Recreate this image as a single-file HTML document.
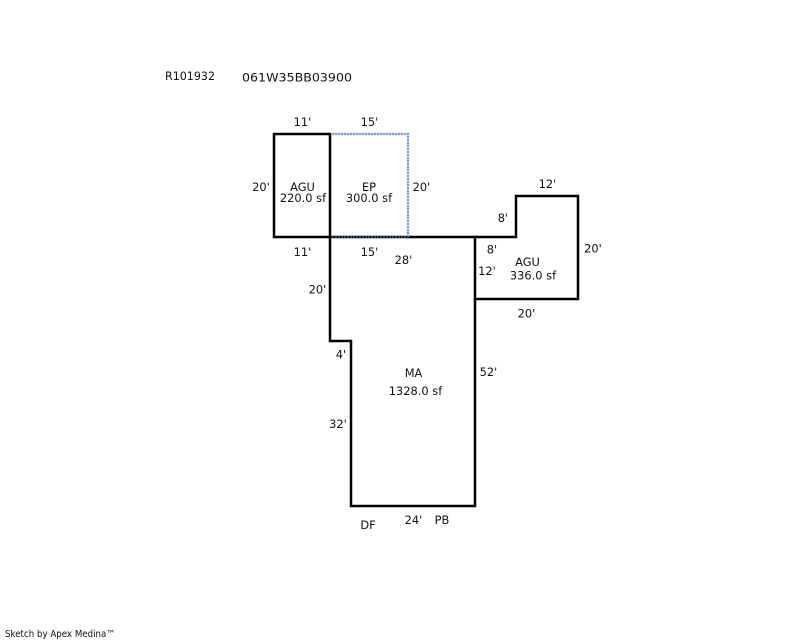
<!DOCTYPE html>
<html>
<head>
<meta charset="utf-8">
<style>
html,body{margin:0;padding:0;background:#fff;width:800px;height:640px;overflow:hidden}
svg{display:block}
text{font-family:"DejaVu Sans",sans-serif;font-size:11.4px;fill:#111;text-anchor:middle}
</style>
</head>
<body>
<svg width="800" height="640" viewBox="0 0 800 640" xmlns="http://www.w3.org/2000/svg">
<path d="M331 237H408" fill="none" stroke="#000" stroke-width="2.500"/>
<g fill="none" stroke="#000" stroke-width="2.500" stroke-linecap="square">
<path d="M274 134H330V237H274Z"/>
<path d="M330 237V341H351V506H475V237H408"/>
<path d="M475 237H516V196H578V299H475"/>
</g>
<path d="M332 134H408V237" fill="none" stroke="#cfdcee" stroke-width="2.200"/>
<path d="M332 134H408V237" fill="none" stroke="#7a9fd2" stroke-width="2.200" stroke-dasharray="2 1"/>
<path d="M332 237H408" fill="none" stroke="#24457a" stroke-width="2" stroke-dasharray="2 1"/>
<text x="190" y="80" textLength="50" lengthAdjust="spacingAndGlyphs">R101932</text>
<text x="297" y="81.500" textLength="110" lengthAdjust="spacingAndGlyphs">061W35BB03900</text>
<text x="302.500" y="126">11'</text>
<text x="369.500" y="126">15'</text>
<text x="261" y="191">20'</text>
<text x="421.500" y="191">20'</text>
<text x="302.500" y="191">AGU</text>
<text x="303" y="202">220.0 sf</text>
<text x="369" y="191">EP</text>
<text x="369" y="202">300.0 sf</text>
<text x="302.500" y="256">11'</text>
<text x="369.500" y="256">15'</text>
<text x="403.500" y="264">28'</text>
<text x="547.500" y="188">12'</text>
<text x="503" y="222">8'</text>
<text x="492" y="253.500">8'</text>
<text x="487" y="275">12'</text>
<text x="593" y="252.500">20'</text>
<text x="527.500" y="266">AGU</text>
<text x="533" y="279.500">336.0 sf</text>
<text x="526.500" y="317.500">20'</text>
<text x="317.500" y="293.500">20'</text>
<text x="341" y="358.500">4'</text>
<text x="413.500" y="377">MA</text>
<text x="415.500" y="395">1328.0 sf</text>
<text x="488.500" y="376">52'</text>
<text x="338" y="428">32'</text>
<text x="368" y="529">DF</text>
<text x="413.500" y="524">24'</text>
<text x="442" y="524">PB</text>
<text x="60" y="637" style="font-size:9.500px" textLength="110" lengthAdjust="spacingAndGlyphs">Sketch by Apex Medina™</text>
</svg>
</body>
</html>
